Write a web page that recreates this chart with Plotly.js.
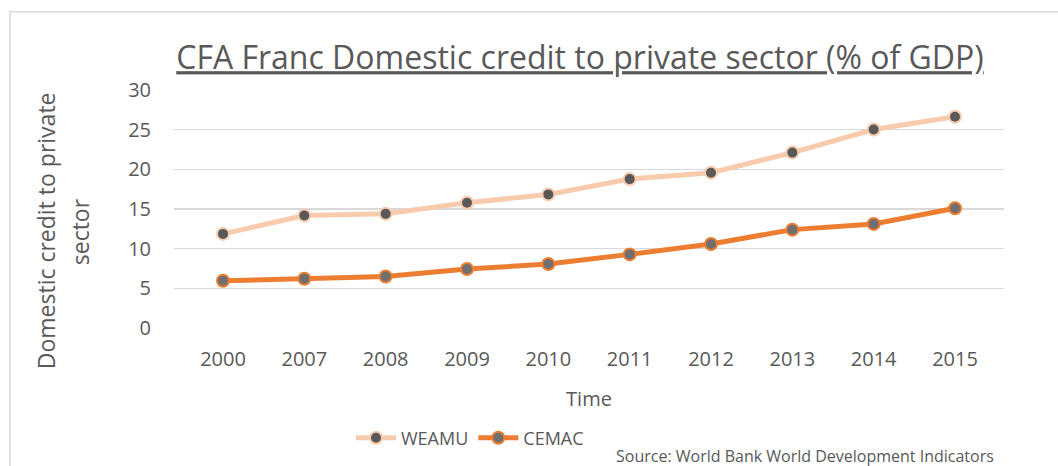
<!DOCTYPE html>
<html>
<head>
<meta charset="utf-8">
<script src="https://cdn.plot.ly/plotly-3.0.1.min.js"></script>
<style>
  html, body { margin: 0; padding: 0; background: #ffffff; }
  #chart { width: 1058px; height: 466px; }
</style>
</head>
<body>
<div id="chart"></div>
<script>
const years = ['2000', '2007', '2008', '2009', '2010', '2011', '2012', '2013', '2014', '2015'];
const weamu = [11.86, 14.18, 14.39, 15.78, 16.84, 18.77, 19.58, 22.11, 25.02, 26.62];
const cemac = [5.95, 6.2, 6.5, 7.43, 8.06, 9.28, 10.59, 12.4, 13.12, 15.1];
const yTicks = [0, 5, 10, 15, 20, 25, 30];

const FONT = 'Open Sans, Liberation Sans, sans-serif';
const GREY = '#595959';

const traces = [
  {
    x: years, y: weamu, name: 'WEAMU', type: 'scatter', mode: 'lines+markers',
    line: { color: '#F8CBAD', width: 5 },
    marker: { color: '#595959', size: 12, line: { color: '#F8CBAD', width: 2 } }
  },
  {
    x: years, y: cemac, name: 'CEMAC', type: 'scatter', mode: 'lines+markers',
    line: { color: '#ED7D31', width: 5 },
    marker: { color: '#6F6F6F', size: 12, line: { color: '#ED7D31', width: 2 } }
  }
];

const layout = {
  width: 1058, height: 466,
  margin: { l: 174, r: 54, t: 90, b: 138 },
  paper_bgcolor: '#ffffff', plot_bgcolor: '#ffffff',
  font: { family: FONT, color: GREY, size: 20 },
  showlegend: true,
  title: {
    text: '<span style="text-decoration:underline">CFA Franc Domestic credit to private sector (% of GDP)</span>',
    xref: 'container', x: 580 / 1058, xanchor: 'center',
    yref: 'container', y: 1 - 58 / 466, yanchor: 'middle',
    font: { family: FONT, size: 32, color: GREY }
  },
  xaxis: {
    type: 'category',
    showgrid: false, zeroline: false, showline: false, ticks: '',
    ticklabelstandoff: 17,
    tickfont: { family: FONT, size: 20, color: GREY },
    title: { text: 'Time', font: { family: FONT, size: 20, color: GREY }, standoff: 20 }
  },
  yaxis: {
    range: [0, 30], tickvals: yTicks, ticktext: yTicks.map(String),
    showgrid: true, gridcolor: '#D9D9D9', gridwidth: 1.5,
    zeroline: false, showline: false, ticks: '',
    ticklabelstandoff: 22,
    tickfont: { family: FONT, size: 20, color: GREY }
  },
  legend: {
    orientation: 'h', xref: 'container', yref: 'container',
    x: 470 / 1058, xanchor: 'center', y: 1 - 438 / 466, yanchor: 'middle',
    font: { family: FONT, size: 18, color: GREY },
    itemwidth: 40, tracegroupgap: 0, bgcolor: 'rgba(0,0,0,0)'
  },
  annotations: [
    {
      text: 'Domestic credit to private', xref: 'paper', yref: 'paper',
      x: (46 - 174) / 830, y: (327.6 - 231) / 237.6, textangle: -90,
      showarrow: false, xanchor: 'center', yanchor: 'middle',
      font: { family: FONT, size: 23, color: GREY }
    },
    {
      text: 'sector', xref: 'paper', yref: 'paper',
      x: (80 - 174) / 830, y: (327.6 - 232) / 237.6, textangle: -90,
      showarrow: false, xanchor: 'center', yanchor: 'middle',
      font: { family: FONT, size: 23, color: GREY }
    },
    {
      text: 'Source: World Bank World Development Indicators', xref: 'paper', yref: 'paper',
      x: (614 - 174) / 830, y: (327.6 - 455) / 237.6,
      showarrow: false, xanchor: 'left', yanchor: 'middle',
      font: { family: FONT, size: 16, color: GREY }
    }
  ],
  shapes: [
    {
      type: 'rect', xref: 'paper', yref: 'paper',
      x0: (10 - 174) / 830, x1: (1080 - 174) / 830,
      y0: (327.6 - 490) / 237.6, y1: (327.6 - 12) / 237.6,
      line: { color: '#D9D9D9', width: 1.5 }, fillcolor: 'rgba(0,0,0,0)', layer: 'below'
    }
  ]
};

Plotly.newPlot('chart', traces, layout, { displayModeBar: false, staticPlot: true });
</script>
</body>
</html>
